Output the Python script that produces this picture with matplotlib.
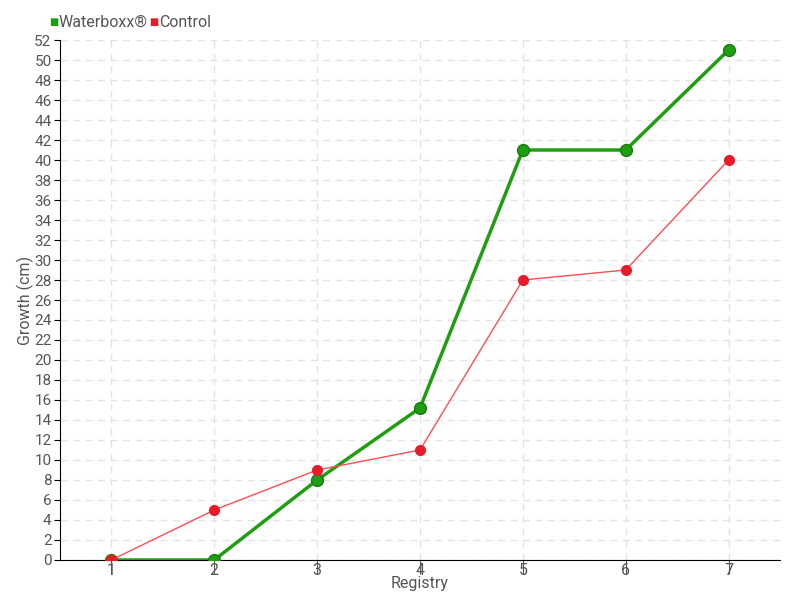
import matplotlib
matplotlib.use("Agg")
from matplotlib import pyplot as plt

# data
registry = [1, 2, 3, 4, 5, 6, 7]
waterboxx = [0, 0, 8, 15.2, 41, 41, 51]
control = [0, 5, 9, 11, 28, 29, 40]

plt.rcParams['font.family'] = ['Roboto', 'DejaVu Sans']
txt = '#555555'

fig = plt.figure(figsize=(8, 6), dpi=100)
ax = fig.add_axes([0.075, 0.0667, 0.9, 0.8666])

ax.plot(registry, waterboxx, color='#1f9e12', linewidth=2.5, marker='o', markersize=8.5,
        markerfacecolor='#1f9e12', markeredgecolor='#167a0c', markeredgewidth=1, zorder=3)
ax.plot(registry, control, color='#ff4d55', linewidth=1, marker='o', markersize=7,
        markerfacecolor='#e81c28', markeredgecolor='#e81c28', zorder=4)

ax.set_xlim(0.5, 7.5)
ax.set_ylim(0, 52)
ax.set_xticks(registry)
ax.set_yticks(range(0, 53, 2))
ax.grid(True, linestyle=(0, (5, 4)), color='#e3e3e3', linewidth=1)
ax.set_axisbelow(True)

for s in ['top', 'right']:
    ax.spines[s].set_visible(False)
ax.spines['left'].set_color('black')
ax.spines['bottom'].set_color('black')
ax.tick_params(axis='y', length=4, color='black', labelcolor=txt, labelsize=11, pad=2)
ax.tick_params(axis='x', length=10, color='#555555', labelcolor=txt, labelsize=11.5, pad=-8)

ax.set_xlabel('Registry', color=txt, fontsize=11.5, labelpad=-1)
ax.set_ylabel('Growth (cm)', color=txt, fontsize=11.5, labelpad=0)

# legend
fig.text(0.061, 0.963, '\u25a0', color='#1f9e12', fontsize=7, va='center')
fig.text(0.073, 0.963, 'Waterboxx\u00ae', color=txt, fontsize=11.5, va='center')
fig.text(0.187, 0.963, '\u25a0', color='#e81c28', fontsize=7, va='center')
fig.text(0.199, 0.963, 'Control', color=txt, fontsize=11.5, va='center')

fig.savefig('out.png', dpi=100)
